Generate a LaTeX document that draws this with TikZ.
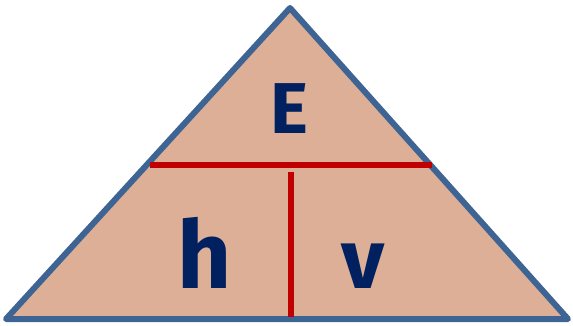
\documentclass[tikz,border=0pt]{standalone}
\usepackage{fontspec}
\setmainfont{Fira Sans}
\definecolor{fillc}{RGB}{220,175,150}
\definecolor{edgec}{RGB}{62,100,148}
\definecolor{redc}{RGB}{192,0,0}
\definecolor{textc}{RGB}{0,32,96}
\begin{document}
\begin{tikzpicture}[x=1pt,y=-1pt,
  tri/.style={fill=fillc,draw=edgec,line width=6pt,line join=round},
  divider/.style={draw=redc,line width=6pt},
  lbl/.style={text=textc,inner sep=0pt,anchor=base}]
\useasboundingbox (0,0) rectangle (573,325);
\coordinate (apex) at (290,8);
\coordinate (bl) at (6,319);
\coordinate (br) at (568,319);
\draw[tri] (apex) -- (br) -- (bl) -- cycle;
\coordinate (hl) at (150,165);
\coordinate (hr) at (432,165);
\coordinate (vt) at (291,172);
\coordinate (vb) at (291,317);
\draw[divider] (hl) -- (hr);
\draw[divider] (vt) -- (vb);
\node[lbl,font=\fontsize{72}{72}\selectfont\bfseries] (E) at (289,133) {E};
\node[lbl,font=\fontsize{94}{94}\selectfont\bfseries] (h) at (205,288) {h};
\node[lbl,font=\fontsize{84}{84}\selectfont\bfseries] (v) at (363,288) {v};
\end{tikzpicture}
\end{document}
